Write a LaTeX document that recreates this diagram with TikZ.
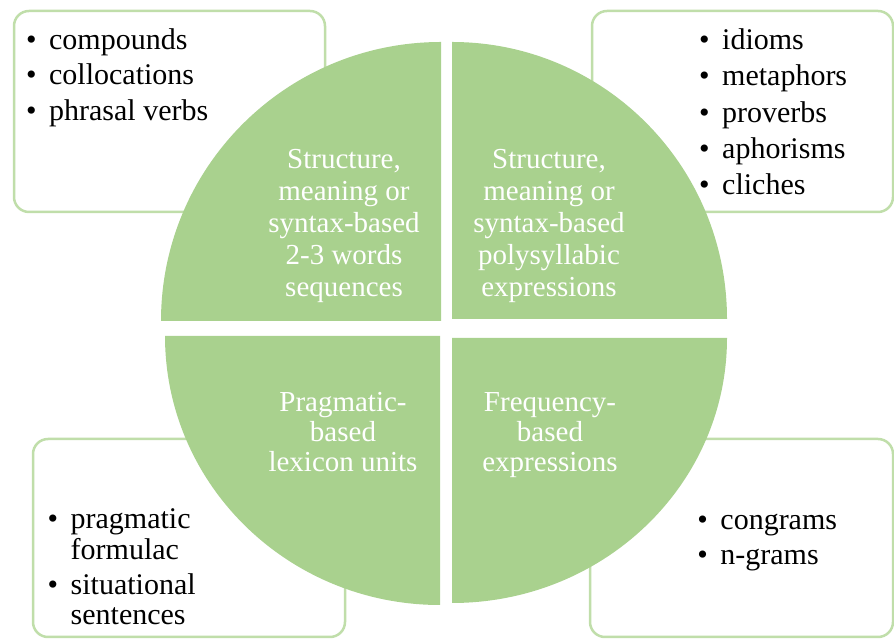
\documentclass[tikz,border=0pt]{standalone}
\usepackage{fontspec}
\setmainfont{Liberation Serif}
\definecolor{sectorgreen}{RGB}{169,209,142}
\definecolor{boxgreen}{RGB}{192,222,170}
\newcommand{\bul}{\textbullet\hspace{12.5pt}}
\newcommand{\ind}{\hspace*{23pt}}
\begin{document}
\begin{tikzpicture}[x=1pt,y=1pt,
  listbox/.style={draw=boxgreen,line width=2.5pt,fill=white,rounded corners=15pt},
  sector/.style={fill=sectorgreen,draw=none},
  sectortext/.style={text=white,align=center,inner sep=0pt,font=\fontsize{29}{32}\selectfont},
  sectortextb/.style={text=white,align=center,inner sep=0pt,font=\fontsize{29}{30}\selectfont},
  listtext/.style={text=black,align=left,inner sep=0pt,anchor=north west,font=\fontsize{30}{35.5}\selectfont},
  listtextc/.style={text=black,align=left,inner sep=0pt,anchor=north west,font=\fontsize{30}{36.2}\selectfont},
  listtextb/.style={text=black,align=left,inner sep=0pt,anchor=north west,font=\fontsize{30}{30}\selectfont}]
\useasboundingbox (0,0) rectangle (894,639);
% corner boxes
\draw[listbox] (14,628) rectangle (325,427);
\draw[listbox] (592,628) rectangle (893,427);
\draw[listbox] (33,200) rectangle (345,2);
\draw[listbox] (590,200) rectangle (893,2);
% sectors
\fill[sector] (441,318) -- (161,318) arc[start angle=180,end angle=90,x radius=280,y radius=279] -- cycle;
\fill[sector] (452,320) -- (452,597) arc[start angle=90,end angle=0,x radius=275,y radius=277] -- cycle;
\fill[sector] (440,303) -- (165,303) arc[start angle=180,end angle=270,x radius=275,y radius=269] -- cycle;
\fill[sector] (452,301) -- (727,301) arc[start angle=0,end angle=-90,x radius=275,y radius=265] -- cycle;
% sector texts
\node[sectortext] (tl) at (344,413) {Structure,\\meaning or\\syntax-based\\2-3 words\\sequences};
\node[sectortext] (tr) at (549,413) {Structure,\\meaning or\\syntax-based\\polysyllabic\\expressions};
\node[sectortextb] (bl) at (343,206.6) {Pragmatic-\\based\\lexicon units};
\node[sectortextb] (br) at (550,203.5) {Frequency-\\based\\expressions};
% lists
\node[listtext] (ltl) at (26,614.85) {\strut\bul compounds\\\bul collocations\\\bul phrasal verbs};
\node[listtextc] (ltr) at (699,614.85) {\strut\bul idioms\\\bul metaphors\\\bul proverbs\\\bul aphorisms\\\bul cliches};
\node[listtextb] (lbl) at (47.5,132) {\strut\bul pragmatic\\\ind formulac\\[5pt]\bul situational\\\ind sentences};
\node[listtext] (lbr) at (697.25,134.85) {\strut\bul congrams\\\bul n-grams};
\end{tikzpicture}
\end{document}
